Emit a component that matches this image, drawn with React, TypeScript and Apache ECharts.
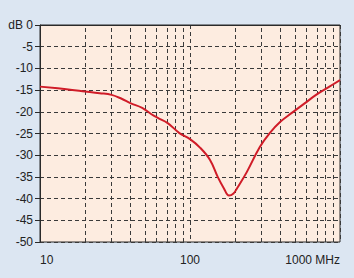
import React, { useEffect, useRef } from "react";
import * as echarts from "echarts";

const freqs = [10, 15, 20, 25, 30, 35, 40, 48, 55, 61, 71, 85, 100, 117, 136, 153, 168, 182, 195, 206, 239, 292, 340, 400, 480, 584, 700, 850, 1000];
const gain = [-14.2, -14.8, -15.3, -15.7, -16.1, -17.0, -18.0, -19.1, -20.5, -21.4, -22.6, -24.9, -26.3, -28.3, -31.1, -35.0, -37.6, -39.3, -38.8, -37.6, -33.9, -28.1, -24.9, -22.3, -20.2, -18.0, -16.0, -14.2, -12.7];
const minorGrid = [20, 30, 40, 50, 60, 70, 80, 90, 200, 300, 400, 500, 600, 700, 800, 900];
const xUnit = "MHz";
const yUnit = "dB";

export default function App() {
  const ref = useRef<HTMLDivElement>(null);
  useEffect(() => {
    if (!ref.current) return;
    const chart = echarts.init(ref.current, null, { renderer: "svg" });
    const dash = { color: "#3a3a3a", width: 1, type: [4, 3] as any };
    chart.setOption({
      animation: false,
      backgroundColor: "#dce6f2",
      textStyle: { fontFamily: "Liberation Sans, Arial, sans-serif" },
      grid: {
        left: 40,
        top: 25,
        width: 300,
        height: 217,
        show: true,
        backgroundColor: "#fdece0",
        borderColor: "#2a2a2a",
        borderWidth: 1,
      },
      xAxis: {
        type: "log",
        logBase: 10,
        min: 10,
        max: 1000,
        axisLine: { show: true, lineStyle: { color: "#2a2a2a", width: 1 } },
        axisTick: { show: false },
        splitLine: { show: true, lineStyle: dash },
        axisLabel: {
          fontSize: 12,
          color: "#222",
          margin: 12,
          alignMinLabel: "left",
          alignMaxLabel: "right",
          formatter: (v: number) => (v === 1000 ? `1000 ${xUnit}` : String(v)),
        },
      },
      yAxis: {
        type: "value",
        min: -50,
        max: 0,
        interval: 5,
        axisLine: { show: true, lineStyle: { color: "#2a2a2a", width: 1 } },
        axisTick: { show: true, length: 5, lineStyle: { color: "#2a2a2a" } },
        splitLine: { show: true, lineStyle: dash },
        axisLabel: {
          fontSize: 12,
          color: "#222",
          margin: 7,
          formatter: (v: number) => (v === 0 ? `${yUnit} 0` : String(v)),
        },
      },
      series: [
        {
          type: "line",
          data: freqs.map((f, i) => [f, gain[i]]),
          smooth: 0.4,
          showSymbol: false,
          lineStyle: { color: "#d01c28", width: 2 },
          markLine: {
            silent: true,
            symbol: "none",
            label: { show: false },
            lineStyle: dash,
            data: minorGrid.map((v) => ({ xAxis: v })),
          },
          z: 5,
        },
      ],
    });
    return () => chart.dispose();
  }, []);
  return (
    <div
      ref={ref}
      style={{ position: "fixed", left: 0, top: 0, width: 354, height: 278 }}
    />
  );
}
